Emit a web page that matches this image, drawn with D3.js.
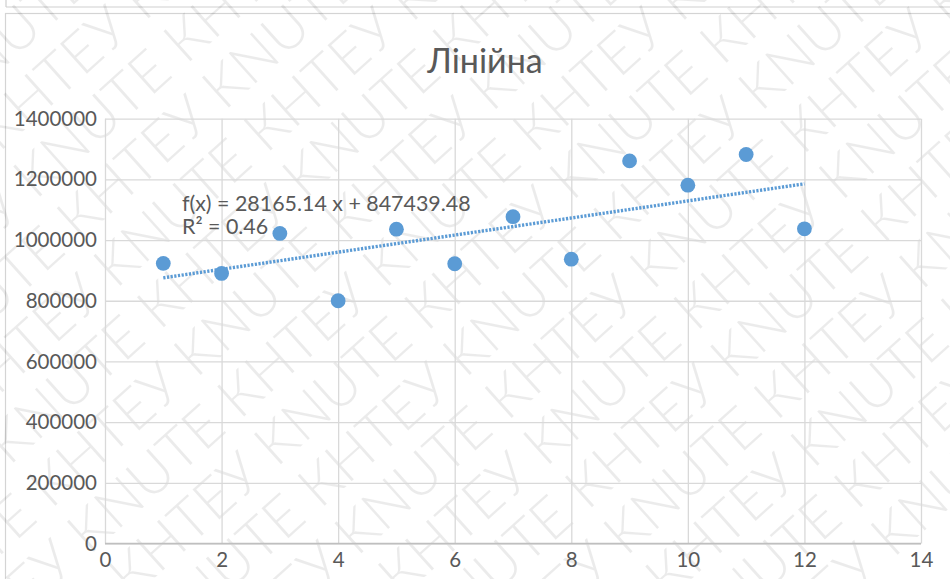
<!DOCTYPE html>
<html>
<head>
<meta charset="utf-8">
<script src="https://cdn.jsdelivr.net/npm/d3@7/dist/d3.min.js"></script>
<style>
  html, body { margin: 0; padding: 0; background: #fff; }
  svg { display: block; }
  text { font-family: Lato, "Open Sans", "Noto Sans", sans-serif; }
</style>
</head>
<body>
<svg id="chart" width="950" height="579"></svg>
<script>
// ---- data ----
const xValues = [1, 2, 3, 4, 5, 6, 7, 8, 9, 10, 11, 12];
const yValues = [923000, 890000, 1022000, 800000, 1036000, 922000, 1077000, 937000, 1261000, 1181000, 1282000, 1037000];
const xTickValues = [0, 2, 4, 6, 8, 10, 12, 14];
const yTickValues = [0, 200000, 400000, 600000, 800000, 1000000, 1200000, 1400000];
const trendSlope = 28165.14;
const trendIntercept = 847439.48;
const equationLines = ["f(x) = 28165.14 x + 847439.48", "R² = 0.46"];
const chartTitle = "Лінійна";
const watermarkWords = ["КНТЕУ", "KNUTE"];

// ---- layout ----
const W = 950, H = 579;
const plot = { left: 105, right: 921, top: 118.7, bottom: 543.5 };
const svg = d3.select("#chart");

svg.append("rect").attr("width", W).attr("height", H).attr("fill", "#fff");

// frames
svg.append("line").attr("x1", 6).attr("x2", W).attr("y1", 7).attr("y2", 7)
  .attr("stroke", "#cfcfcf").attr("stroke-width", 1.2);
svg.append("line").attr("x1", 6).attr("x2", 6).attr("y1", 0).attr("y2", 7)
  .attr("stroke", "#cfcfcf").attr("stroke-width", 1.2);
svg.append("rect").attr("x", 5.5).attr("y", 13.5).attr("width", W + 10).attr("height", H + 10)
  .attr("fill", "none").attr("stroke", "#d4d4d4").attr("stroke-width", 1.2);

// watermark (one text per diagonal row)
const wm = svg.append("g").attr("transform", `translate(${W/2},${H/2}) rotate(-42)`);
const rowGap = 60;
const rowText = d3.range(8).map(i => watermarkWords[i % 2]).join(" ");
for (let r = -8; r <= 8; r++) {
  wm.append("text")
    .attr("x", -760 + (((r % 2) + 2) % 2) * 200 - 100)
    .attr("y", r * rowGap)
    .attr("font-size", 57)
    .attr("font-weight", 300)
    .attr("fill", "#000")
    .attr("fill-opacity", 0.08)
    .text(rowText);
}

const x = d3.scaleLinear().domain([0, 14]).range([plot.left, plot.right]);
const y = d3.scaleLinear().domain([0, 1400000]).range([plot.bottom, plot.top]);

// y gridlines + labels
const yAxis = svg.append("g").attr("transform", `translate(${plot.left},0)`)
  .call(d3.axisLeft(y).tickValues(yTickValues).tickFormat(d3.format("d"))
    .tickSize(-(plot.right - plot.left)).tickPadding(8));
yAxis.select(".domain").remove();
yAxis.selectAll(".tick line").attr("stroke", "#d9d9d9").attr("stroke-width", 1.3);
yAxis.selectAll(".tick text").attr("fill", "#595959").attr("font-size", 20.5)
  .attr("font-family", "Lato, 'Open Sans', sans-serif");

// x gridlines + labels
const xAxis = svg.append("g").attr("transform", `translate(0,${plot.bottom})`)
  .call(d3.axisBottom(x).tickValues(xTickValues).tickFormat(d3.format("d"))
    .tickSize(-(plot.bottom - plot.top)).tickPadding(9));
xAxis.select(".domain").remove();
xAxis.selectAll(".tick line").attr("stroke", "#d9d9d9").attr("stroke-width", 1.3);
xAxis.selectAll(".tick text").attr("fill", "#595959").attr("font-size", 20.5)
  .attr("font-family", "Lato, 'Open Sans', sans-serif");

// bottom axis line
svg.append("line").attr("x1", plot.left).attr("x2", plot.right)
  .attr("y1", y(0)).attr("y2", y(0))
  .attr("stroke", "#bfbfbf").attr("stroke-width", 1.6);

// trendline
const xExt = d3.extent(xValues);
const trend = xExt.map(v => [v, trendIntercept + trendSlope * v]);
svg.append("path")
  .attr("d", d3.line().x(d => x(d[0])).y(d => y(d[1]))(trend))
  .attr("fill", "none").attr("stroke", "#5b9bd5").attr("stroke-width", 3.4)
  .attr("stroke-dasharray", "2.2,1.5");

// points
svg.append("g").selectAll("circle").data(xValues.map((v, i) => [v, yValues[i]]))
  .join("circle")
  .attr("cx", d => x(d[0])).attr("cy", d => y(d[1])).attr("r", 7.4)
  .attr("fill", "#5b9bd5");

// equation label
const eq = svg.append("text").attr("x", 182).attr("y", 210.5)
  .attr("fill", "#595959").attr("font-size", 21.4);
eq.selectAll("tspan").data(equationLines).join("tspan")
  .attr("x", 182).attr("dy", (d, i) => i === 0 ? 0 : 23.5).text(d => d);

// title
svg.append("text").attr("x", 485).attr("y", 73).attr("text-anchor", "middle")
  .attr("fill", "#595959").attr("font-size", 34).text(chartTitle);
</script>
</body>
</html>
